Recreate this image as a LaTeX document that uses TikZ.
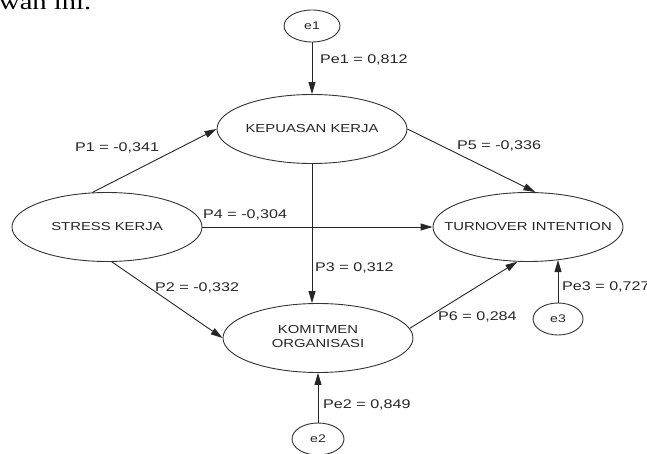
\documentclass[tikz,border=0pt]{standalone}
\usepackage{fontspec}
\setmainfont[FakeStretch=1.28]{Liberation Sans}
\newfontfamily\docserif[FakeStretch=1.28]{Liberation Serif}
\usetikzlibrary{shapes.geometric,arrows.meta}
\begin{document}
\begin{tikzpicture}[x=1pt,y=-1pt,
  latent/.style={ellipse,draw=black!80,line width=0.9pt,inner sep=0pt,minimum width=190pt,minimum height=69pt,font=\fontsize{11.6}{14}\selectfont,text=black!85},
  errnode/.style={ellipse,draw=black!80,line width=0.9pt,inner sep=0pt,minimum height=32pt,font=\fontsize{11}{13}\selectfont,text=black!85},
  coef/.style={anchor=west,inner sep=0pt,font=\fontsize{12.6}{15}\selectfont,text=black!85},
  conn/.style={draw=black!85,line width=0.9pt,-{Triangle[length=12pt,width=7pt]}}]
\useasboundingbox (0,0) rectangle (647,454);
\clip (0,0) rectangle (647,454);
\node[anchor=base west,inner sep=0pt,font=\docserif\fontsize{22.3}{26}\selectfont] (doc) at (-1,9.5) {wah ini.};
% latent variables
\node[latent] (kep) at (312,129) {\makebox[0pt]{KEPUASAN KERJA}};
\node[latent] (str) at (107,227) {\makebox[0pt]{STRESS KERJA}};
\node[latent] (turn) at (528,227) {\makebox[0pt]{TURNOVER INTENTION}};
\node[latent] (kom) at (318,338) {\makebox[0pt]{\begin{tabular}{@{}c@{}}KOMITMEN\\ORGANISASI\end{tabular}}};
% error terms
\node[errnode,minimum width=56pt] (e1) at (312,26) {\makebox[0pt]{e1}};
\node[errnode,minimum width=52pt] (e2) at (318,439) {\makebox[0pt]{e2}};
\node[errnode,minimum width=50pt] (e3) at (558,319) {\makebox[0pt]{e3}};
% connectors
\draw[conn] (e1.south) -- (kep.north);
\draw[conn] (str.113) -- (kep.west);
\draw[conn] (str.east) -- (turn.west);
\draw[conn] (kep.south) -- (kep.south |- kom.north);
\draw[conn] (kep.east) -- (turn.78);
\draw[conn] (str.-82) -- (kom.west);
\draw[conn] (kom.6) -- (turn.253);
\draw[conn] (e3.north) -- (e3.north |- turn.-47);
\draw[conn] (e2.north) -- (kom.south);
% coefficients
\node[coef] (l1) at (320,60) {Pe1 = 0,812};
\node[coef] (l2) at (75,148) {P1 = -0,341};
\node[coef] (l3) at (203,215) {P4 = -0,304};
\node[coef] (l4) at (457,146) {P5 = -0,336};
\node[coef] (l5) at (315,268) {P3 = 0,312};
\node[coef] (l6) at (155,288) {P2 = -0,332};
\node[coef] (l7) at (438,317) {P6 = 0,284};
\node[coef] (l8) at (562,287) {Pe3 = 0,727};
\node[coef] (l9) at (323,405) {Pe2 = 0,849};
\end{tikzpicture}
\end{document}
